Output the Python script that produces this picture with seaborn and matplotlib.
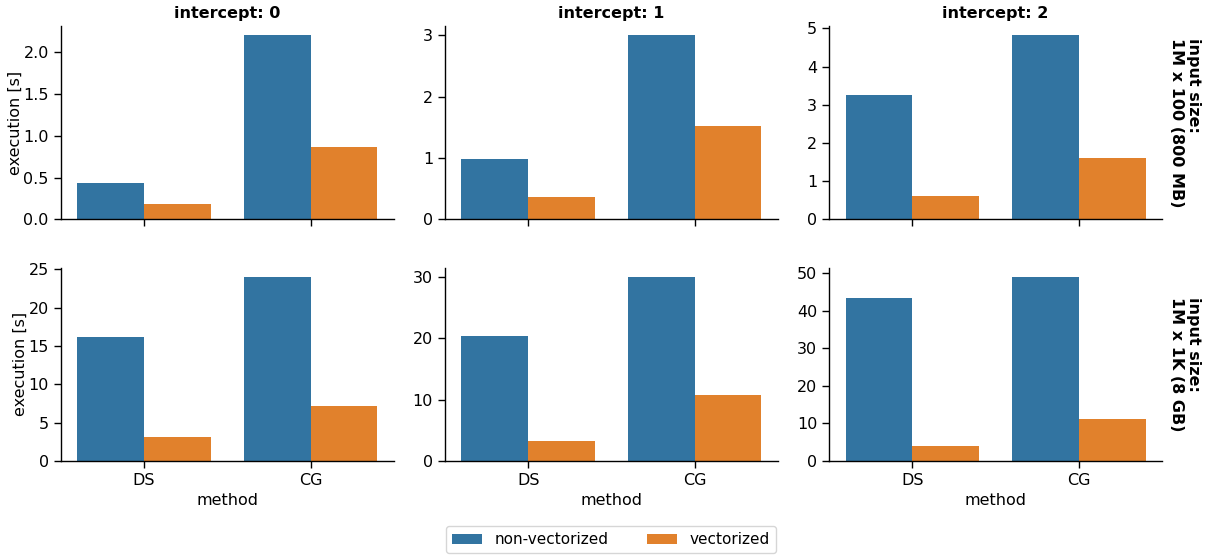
import matplotlib
matplotlib.use("Agg")
import matplotlib.pyplot as plt
from matplotlib.patches import Patch
from matplotlib.ticker import MultipleLocator
import seaborn as sns
import pandas as pd

sizes = ["1M x 100 (800 MB)", "1M x 1K (8 GB)"]
intercepts = [0, 1, 2]
methods = ["DS", "CG"]
variants = ["non-vectorized", "vectorized"]
colors = ["#3274a1", "#e1812c"]

# values per (size, intercept): DS non-vec, DS vec, CG non-vec, CG vec
small_i0 = [0.43, 0.18, 2.20, 0.86]
small_i1 = [0.98, 0.36, 3.00, 1.52]
small_i2 = [3.27, 0.61, 4.82, 1.60]
large_i0 = [16.2, 3.17, 24.0, 7.2]
large_i1 = [20.4, 3.3, 30.0, 10.8]
large_i2 = [43.4, 4.08, 49.0, 11.25]

table = {
    (sizes[0], 0): small_i0, (sizes[0], 1): small_i1, (sizes[0], 2): small_i2,
    (sizes[1], 0): large_i0, (sizes[1], 1): large_i1, (sizes[1], 2): large_i2,
}

rows = []
for (s, i), vals in table.items():
    k = 0
    for m in methods:
        for v in variants:
            rows.append({"input size": s, "intercept": i, "method": m,
                         "variant": v, "execution [s]": vals[k]})
            k += 1
df = pd.DataFrame(rows)

sns.set_theme(style="ticks")
plt.rcParams.update({
    "font.size": 11.5, "axes.labelsize": 11.5, "xtick.labelsize": 11.5,
    "ytick.labelsize": 11.5, "xtick.major.size": 5, "ytick.major.size": 5,
    "xtick.major.width": 1.0, "ytick.major.width": 1.0, "axes.linewidth": 1.0,
    "axes.edgecolor": "black", "xtick.color": "black", "ytick.color": "black",
    "text.color": "black", "axes.labelcolor": "black",
})

g = sns.catplot(data=df, kind="bar", x="method", y="execution [s]",
                hue="variant", hue_order=variants, order=methods,
                palette=colors, saturation=1, linewidth=0,
                row="input size", row_order=sizes, col="intercept",
                col_order=intercepts, sharey=False, margin_titles=True,
                legend=False, height=2.5, aspect=1.6, errorbar=None)
g.set_titles(row_template="input size:\n{row_name}",
             col_template="intercept: {col_name}", fontweight="bold", size=11.5)
g.set_axis_labels("method", "execution [s]")

steps = [[0.5, 1, 1], [5, 10, 10]]
for r in range(2):
    for c in range(3):
        g.axes[r, c].yaxis.set_major_locator(MultipleLocator(steps[r][c]))
    g.axes[r, 0].yaxis.labelpad = 0.5

fig = g.figure
fig.set_size_inches(12.12, 5.56)
fig.subplots_adjust(left=0.050, right=0.959, top=0.953, bottom=0.171,
                    wspace=0.153, hspace=0.25)

handles = [Patch(facecolor=c, edgecolor="none") for c in colors]
fig.legend(handles, variants, loc="center", bbox_to_anchor=(0.504, 0.029),
           ncol=2, frameon=True, fontsize=11, columnspacing=2.5)

fig.savefig("out.png", dpi=100)
